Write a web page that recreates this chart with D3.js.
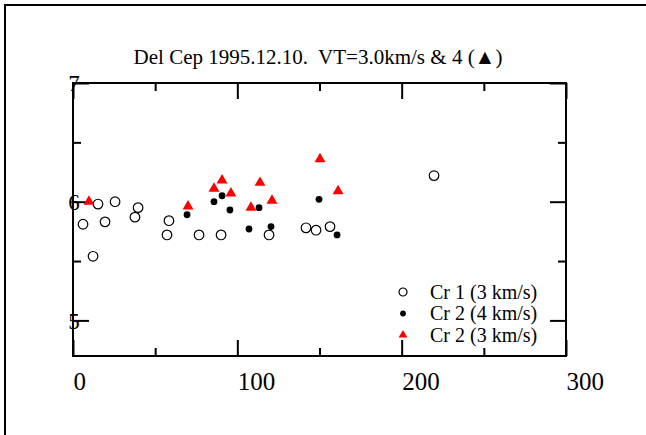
<!DOCTYPE html>
<html lang="en">
<head>
    <meta charset="UTF-8">
    <title>Del Cep 1995.12.10</title>
    <style>
        body {
            margin: 0;
            background-color: #fff;
        }
        svg text {
            font-family: "Liberation Serif", "Times New Roman", serif;
            fill: #000;
        }
    </style>
    <script src="https://d3js.org/d3.v7.min.js"></script>
</head>
<body>
    <svg id="chart" width="646" height="435"></svg>
    <script>
        // Data: [x, value]
        const cr1_3 = [
            [6.1, 5.81], [12.2, 5.54], [15.2, 5.98], [19.5, 5.83], [25.6, 6.00],
            [37.7, 5.87], [39.6, 5.95], [58.4, 5.84], [57.2, 5.72], [76.7, 5.72],
            [90.1, 5.72], [119.3, 5.72], [141.8, 5.78], [147.9, 5.76], [156.4, 5.79],
            [219.7, 6.22]
        ];
        const cr2_4 = [
            [69.4, 5.89], [85.8, 6.00], [90.7, 6.05], [95.5, 5.93], [107.1, 5.77],
            [113.2, 5.95], [120.5, 5.79], [149.7, 6.02], [160.7, 5.72]
        ];
        const cr2_3 = [
            [9.7, 6.00], [70.0, 5.96], [85.8, 6.11], [90.7, 6.18], [96.1, 6.07],
            [108.3, 5.95], [113.8, 6.16], [121.1, 6.01], [150.3, 6.36], [161.3, 6.09]
        ];

        const xMajor = [0, 100, 200, 300];
        const xMinor = [50, 150, 250];
        const yMajor = [5, 6, 7];
        const yMinor = [5.5, 6.5];
        const legendLabels = ["Cr 1 (3 km/s)", "Cr 2 (4 km/s)", "Cr 2 (3 km/s)"];
        const title = "Del Cep 1995.12.10.  VT=3.0km/s & 4 (\u25B2)";

        const svg = d3.select("#chart");
        const pLeft = 73, pRight = 566, pTop = 83, pBottom = 356;

        const x = d3.scaleLinear().domain([0, 300]).range([pLeft, pRight]);
        const y = d3.scaleLinear().domain([4.7, 7]).range([pBottom, pTop]);

        // outer frame (left and top edges only)
        svg.append("path")
            .attr("d", "M5,435V5H646")
            .attr("fill", "none")
            .attr("stroke", "#000")
            .attr("stroke-width", 2);

        // title
        svg.append("text")
            .attr("x", 318)
            .attr("y", 64)
            .attr("text-anchor", "middle")
            .style("font-size", "21px")
            .style("white-space", "pre")
            .text(title);

        // plot box
        svg.append("rect")
            .attr("x", pLeft).attr("y", pTop)
            .attr("width", pRight - pLeft).attr("height", pBottom - pTop)
            .attr("fill", "none")
            .attr("stroke", "#000")
            .attr("stroke-width", 2);

        function styleAxis(g) {
            g.select(".domain").remove();
            g.selectAll(".tick line").attr("stroke", "#000").attr("stroke-width", 2);
        }

        // bottom axis
        svg.append("g")
            .attr("transform", `translate(0,${pBottom})`)
            .call(d3.axisBottom(x).tickValues(xMajor).tickSize(-16).tickPadding(0).tickFormat(d3.format("d")))
            .call(styleAxis)
            .call(g => g.selectAll(".tick text")
                .attr("text-anchor", "start")
                .attr("dy", null)
                .attr("y", 34)
                .style("font-size", "25px")
                .style("font-family", "'Liberation Serif', serif"));
        svg.append("g")
            .attr("transform", `translate(0,${pBottom})`)
            .call(d3.axisBottom(x).tickValues(xMinor).tickSize(-8).tickFormat(""))
            .call(styleAxis);

        // top axis
        svg.append("g")
            .attr("transform", `translate(0,${pTop})`)
            .call(d3.axisTop(x).tickValues(xMajor).tickSize(-16).tickFormat(""))
            .call(styleAxis);
        svg.append("g")
            .attr("transform", `translate(0,${pTop})`)
            .call(d3.axisTop(x).tickValues(xMinor).tickSize(-8).tickFormat(""))
            .call(styleAxis);

        // left axis, labels sit on top of the axis line
        svg.append("g")
            .attr("transform", `translate(${pLeft},0)`)
            .call(d3.axisLeft(y).tickValues(yMajor).tickSize(-16).tickPadding(0).tickFormat(d3.format("d")))
            .call(styleAxis)
            .call(g => g.selectAll(".tick text")
                .attr("text-anchor", "middle")
                .attr("x", 1)
                .attr("dy", "0.34em")
                .style("font-size", "23px")
                .style("font-family", "'Liberation Serif', serif"));
        svg.append("g")
            .attr("transform", `translate(${pLeft},0)`)
            .call(d3.axisLeft(y).tickValues(yMinor).tickSize(-8).tickFormat(""))
            .call(styleAxis);

        // right axis
        svg.append("g")
            .attr("transform", `translate(${pRight},0)`)
            .call(d3.axisRight(y).tickValues(yMajor).tickSize(-16).tickFormat(""))
            .call(styleAxis);
        svg.append("g")
            .attr("transform", `translate(${pRight},0)`)
            .call(d3.axisRight(y).tickValues(yMinor).tickSize(-8).tickFormat(""))
            .call(styleAxis);

        // points
        const marks = svg.append("g");
        marks.selectAll(".c1").data(cr1_3).enter().append("circle")
            .attr("cx", d => x(d[0])).attr("cy", d => y(d[1]))
            .attr("r", 4.8)
            .attr("fill", "#fff").attr("stroke", "#000").attr("stroke-width", 1.2);
        marks.selectAll(".c2").data(cr2_4).enter().append("circle")
            .attr("cx", d => x(d[0])).attr("cy", d => y(d[1]))
            .attr("r", 3.4)
            .attr("fill", "#000");
        const tri = d3.symbol().type(d3.symbolTriangle).size(52);
        marks.selectAll(".t2").data(cr2_3).enter().append("path")
            .attr("transform", d => `translate(${x(d[0])},${y(d[1])})`)
            .attr("d", tri)
            .attr("fill", "#ff0000");

        // legend
        const legend = svg.append("g").attr("transform", "translate(403,292)");
        const rowH = 21.5;
        legend.append("circle").attr("cx", 0).attr("cy", 0).attr("r", 4)
            .attr("fill", "#fff").attr("stroke", "#000").attr("stroke-width", 1.2);
        legend.append("circle").attr("cx", 0).attr("cy", rowH).attr("r", 2.9)
            .attr("fill", "#000");
        legend.append("path").attr("transform", `translate(0,${rowH * 2})`)
            .attr("d", d3.symbol().type(d3.symbolTriangle).size(34))
            .attr("fill", "#ff0000");
        legend.selectAll("text").data(legendLabels).enter().append("text")
            .attr("x", 27)
            .attr("y", (d, i) => i * rowH)
            .attr("dy", "0.34em")
            .style("font-size", "20px")
            .text(d => d);
    </script>
</body>
</html>
